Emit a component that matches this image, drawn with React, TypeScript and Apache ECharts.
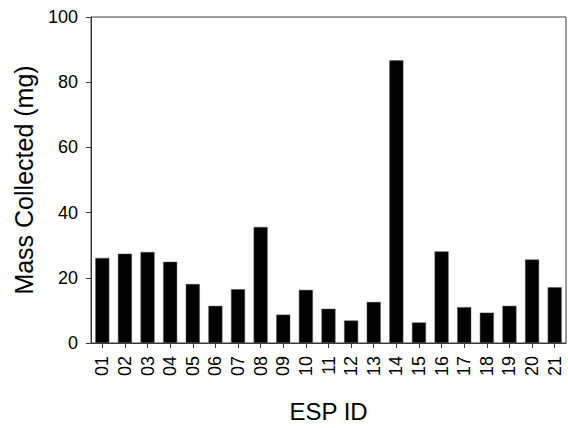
import React, { useEffect, useRef } from "react";
import * as echarts from "echarts";

const categories = ["01","02","03","04","05","06","07","08","09","10","11","12","13","14","15","16","17","18","19","20","21"];
const massValues = [26.1, 27.4, 27.9, 24.9, 18.1, 11.4, 16.5, 35.6, 8.7, 16.3, 10.5, 6.9, 12.6, 86.7, 6.3, 28.1, 11.0, 9.3, 11.4, 25.6, 17.1];
const yTicks = { min: 0, max: 100, interval: 20 };

export default function App() {
  const ref = useRef<HTMLDivElement>(null);
  useEffect(() => {
    if (!ref.current) return;
    const chart = echarts.init(ref.current, null, { renderer: "svg" });
    const font = "'Liberation Sans', Arial, sans-serif";
    const axisColor = "#3a3a3a";
    chart.setOption({
      animation: false,
      backgroundColor: "#ffffff",
      grid: {
        left: 91, right: 2, top: 17, bottom: 79,
        show: true, borderColor: axisColor, borderWidth: 1, backgroundColor: "transparent",
      },
      xAxis: {
        type: "category",
        data: categories,
        name: "ESP ID",
        nameLocation: "middle",
        nameGap: 56,
        nameTextStyle: { fontFamily: font, fontSize: 24, color: "#000" },
        axisLine: { show: true, lineStyle: { color: axisColor, width: 1 } },
        axisTick: { show: true, alignWithLabel: true, inside: false, length: 5, lineStyle: { color: axisColor } },
        axisLabel: { rotate: 90, fontFamily: font, fontSize: 18, color: "#000", margin: 13, interval: 0 },
        splitLine: { show: false },
      },
      yAxis: {
        type: "value",
        min: yTicks.min,
        max: yTicks.max,
        interval: yTicks.interval,
        name: "Mass Collected (mg)",
        nameLocation: "middle",
        nameGap: 55,
        nameTextStyle: { fontFamily: font, fontSize: 25, color: "#000" },
        axisLine: { show: true, lineStyle: { color: axisColor, width: 1 } },
        axisTick: { show: true, inside: false, length: 5, lineStyle: { color: axisColor } },
        axisLabel: { fontFamily: font, fontSize: 18, color: "#000", margin: 13 },
        splitLine: { show: false },
      },
      series: [
        {
          type: "bar",
          data: massValues,
          barCategoryGap: "38%",
          itemStyle: { color: "#000000", borderColor: "#555", borderWidth: 0.5 },
        },
      ],
    });
    return () => chart.dispose();
  }, []);
  return (
    <div
      ref={ref}
      style={{ position: "fixed", left: 0, top: 0, width: 568, height: 428, background: "#fff" }}
    />
  );
}
